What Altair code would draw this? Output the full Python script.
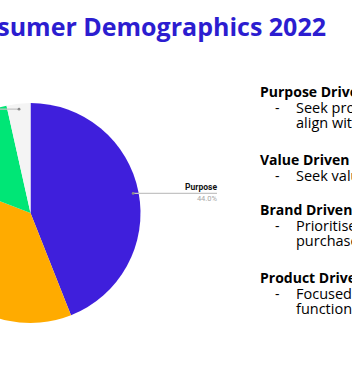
import math
import altair as alt
import pandas as pd

# ---- data ----
categories = ["Purpose", "Value", "Brand", "Product"]
shares = [44.0, 36.8, 15.7, 3.5]
colors = ["#3f1fdc", "#ffab00", "#00e676", "#f4f4f4"]

title_text = "Consumer Demographics 2022"
headings = ["Purpose Driven", "Value Driven", "Brand Driven", "Product Driven"]
bullets = [
    ["Seek products that", "align with their values"],
    ["Seek value for money"],
    ["Prioritise brand in", "purchases"],
    ["Focused", "functionality"],
]

# ---- layout ----
W, H = 352, 390
cx, cy, R = 30.5, 213, 110
r_dot = 104.5
label_reach = 186.5
head_y = [97, 165, 215, 283]
first_off, line_step = 16, 15
head_x, dash_x, body_x = 260, 275, 296

# pie table
total = sum(shares)
rows = []
cum = 0.0
for i, (c, v) in enumerate(zip(categories, shares)):
    mid = (cum + v / 2) / total * 2 * math.pi
    cum += v
    px = cx + r_dot * math.sin(mid)
    py = cy - r_dot * math.cos(mid)
    right = math.sin(mid) >= 0
    ex = cx + label_reach if right else cx - label_reach
    rows.append(dict(cat=c, value=v, idx=i, px=px, py=py, ex=ex,
                     align="right" if right else "left",
                     pct=f"{v:.1f}%"))
pie_df = pd.DataFrame(rows)

pie = alt.Chart(pie_df).mark_arc(outerRadius=R).encode(
    theta=alt.Theta("value:Q", stack=True),
    color=alt.Color("cat:N", scale=alt.Scale(domain=categories, range=colors), legend=None),
    order=alt.Order("idx:Q"),
    x=alt.value(cx),
    y=alt.value(cy),
)

base = alt.Chart(pie_df)
rules = base.mark_rule(color="#c4c4c4", strokeWidth=1.2).encode(
    x=alt.X("px:Q", scale=None), x2="ex:Q", y=alt.Y("py:Q", scale=None)
)
dots = base.mark_circle(color="#8a8a8a", size=8, opacity=1).encode(
    x=alt.X("px:Q", scale=None), y=alt.Y("py:Q", scale=None)
)
names_r = base.transform_filter("datum.align == 'right'").mark_text(
    font="Roboto", fontWeight="bold", fontSize=8.5, color="#111", align="right",
    baseline="alphabetic", dy=-3
).encode(x=alt.X("ex:Q", scale=None), y=alt.Y("py:Q", scale=None), text="cat:N")
pcts_r = base.transform_filter("datum.align == 'right'").mark_text(
    font="Roboto", fontSize=7.5, color="#a8a8a8", align="right",
    baseline="alphabetic", dy=8
).encode(x=alt.X("ex:Q", scale=None), y=alt.Y("py:Q", scale=None), text="pct:N")
names_l = base.transform_filter("datum.align == 'left'").mark_text(
    font="Roboto", fontWeight="bold", fontSize=8.5, color="#111", align="left",
    baseline="alphabetic", dy=-3
).encode(x=alt.X("ex:Q", scale=None), y=alt.Y("py:Q", scale=None), text="cat:N")
pcts_l = base.transform_filter("datum.align == 'left'").mark_text(
    font="Roboto", fontSize=7.5, color="#a8a8a8", align="left",
    baseline="alphabetic", dy=8
).encode(x=alt.X("ex:Q", scale=None), y=alt.Y("py:Q", scale=None), text="pct:N")

# title
title_df = pd.DataFrame([{"t": title_text}])
title = alt.Chart(title_df).mark_text(
    font="Open Sans", fontWeight="bold", fontSize=25, color="#2c1dd0",
    align="right", baseline="alphabetic"
).encode(x=alt.value(326), y=alt.value(36), text="t:N")

# right-hand notes
head_rows, body_rows = [], []
for h, y0, lines in zip(headings, head_y, bullets):
    head_rows.append({"t": h, "y": y0})
    for j, ln in enumerate(lines):
        body_rows.append({"t": ln, "y": y0 + first_off + j * line_step, "first": j == 0})
head_df = pd.DataFrame(head_rows)
body_df = pd.DataFrame(body_rows)

heads = alt.Chart(head_df).mark_text(
    font="Open Sans", fontWeight="bold", fontSize=14, color="#000", align="left",
    baseline="alphabetic"
).encode(x=alt.value(head_x), y=alt.Y("y:Q", scale=None), text="t:N")
bodies = alt.Chart(body_df).mark_text(
    font="Open Sans", fontSize=14.5, color="#000", align="left", baseline="alphabetic"
).encode(x=alt.value(body_x), y=alt.Y("y:Q", scale=None), text="t:N")
dashes = alt.Chart(body_df).transform_filter("datum.first").mark_text(
    font="Open Sans", fontSize=14, color="#000", align="left", baseline="alphabetic"
).encode(x=alt.value(dash_x), y=alt.Y("y:Q", scale=None), text=alt.value("-"))

chart = alt.layer(
    pie, rules, dots, names_r, pcts_r, names_l, pcts_l, title, heads, dashes, bodies
).properties(
    width=W, height=H, padding=0, autosize=alt.AutoSizeParams(type="none"),
    background="white"
).configure_view(stroke=None)

chart.save("out.html", embed_options={"renderer": "svg", "actions": False})
